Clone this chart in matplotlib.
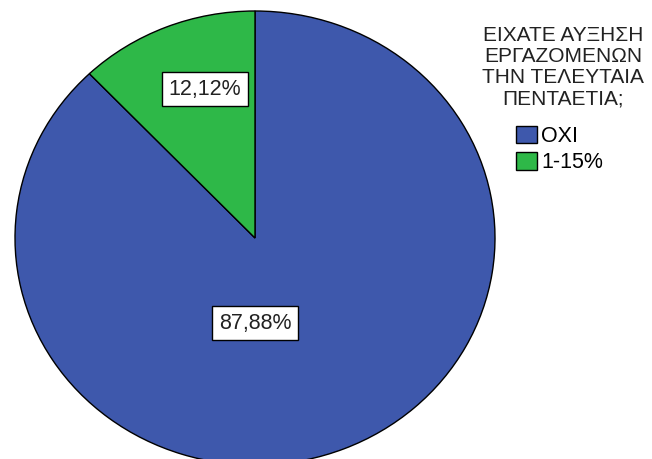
import matplotlib.pyplot as plt

plt.rcParams["font.family"] = ["Liberation Sans", "DejaVu Sans"]

categories = ["ΟΧΙ", "1-15%"]
values = [87.88, 12.12]
colors = ["#3E58AC", "#2EB848"]
legend_title = "ΕΙΧΑΤΕ ΑΥΞΗΣΗ\nΕΡΓΑΖΟΜΕΝΩΝ\nΤΗΝ ΤΕΛΕΥΤΑΙΑ\nΠΕΝΤΑΕΤΙΑ;"

W, H = 652, 459
fig = plt.figure(figsize=(W / 100, H / 100), dpi=100)

# pie is slightly squashed vertically: rx=240px, ry=227px, centre (255, 238)
cx, cy, rx, ry = 255, 238, 240, 227
ax = fig.add_axes([(cx - rx) / W, (H - cy - ry) / H, 2 * rx / W, 2 * ry / H])

wedges, texts, autotexts = ax.pie(
    values,
    colors=colors,
    startangle=90,
    counterclock=False,
    autopct=lambda p: f"{p:.2f}%".replace(".", ","),
    wedgeprops=dict(edgecolor="black", linewidth=1.0),
    textprops=dict(fontsize=15.5, color="#222222"),
)
ax.set_aspect("auto")
ax.set_xlim(-1, 1)
ax.set_ylim(-1, 1)

for t in autotexts:
    t.set_bbox(dict(facecolor="white", edgecolor="black", linewidth=1.0,
                    boxstyle="square,pad=0.31"))
# label placement as in the original (SPSS style)
autotexts[0].set_position((0, -0.375))
autotexts[1].set_position((-0.21, 0.655))

fig.text(563 / W, 1 - 26 / H, legend_title, ha="center", va="top",
         fontsize=15, linespacing=1.14, color="#222222")

fig.legend(
    wedges,
    categories,
    loc="upper left",
    bbox_to_anchor=(516 / W, 1 - 126 / H),
    frameon=False,
    fontsize=15.5,
    handlelength=0.98,
    handleheight=0.85,
    handletextpad=0.2,
    labelspacing=0.25,
    borderpad=0,
    borderaxespad=0,
)

fig.savefig("out.png", dpi=100)
